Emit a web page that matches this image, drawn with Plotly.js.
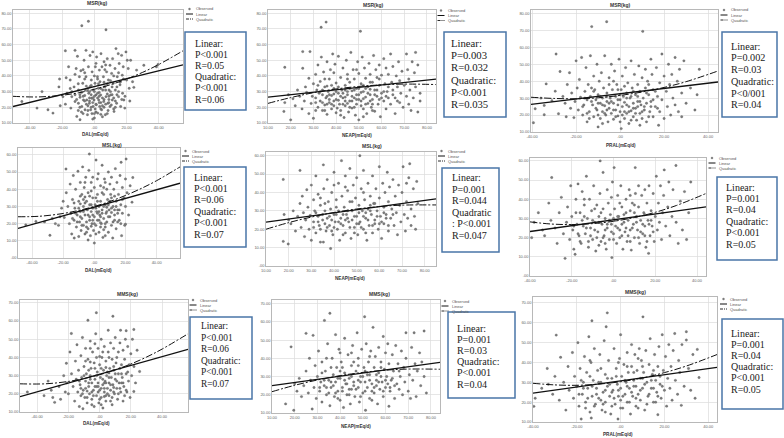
<!DOCTYPE html>
<html><head><meta charset="utf-8">
<script src="https://cdn.plot.ly/plotly-3.0.1.min.js"></script>
<style>html,body{margin:0;padding:0;background:#fff}#chart{width:784px;height:438px}</style>
</head><body><div id="chart"></div>
<script>
// ---------- tick labels ----------
const signedTicks = [-40,-20,0,20,40];
const signedTickText = ['-40.00','-20.00','.00','20.00','40.00'];
const neapTicks = [10,20,30,40,50,60,70,80];
const neapTickText = ['10.00','20.00','30.00','40.00','50.00','60.00','70.00','80.00'];
const msrTicks = [10,20,30,40,50,60,70,80];
const msrTickText = ['10.00','20.00','30.00','40.00','50.00','60.00','70.00','80.00'];
const mslTicks = [0,10,20,30,40,50,60];
const mslTickText = ['.00','10.00','20.00','30.00','40.00','50.00','60.00'];
const mmsTicks = [10,20,30,40,50,60,70];
const mmsTickText = ['10.00','20.00','30.00','40.00','50.00','60.00','70.00'];

// ---------- observed points [x, y] ----------
const dalMsr = [[-45,23.7],[-35.6,19.5],[-32.5,30],[-28.8,18.4],[-25.7,16.3],[-22,33],[-21.6,38],[-21.2,21],[-19.5,26.8],[-18,56],[-17.5,38.8],[-17,29],[-16,45.8],[-15,37.4],[-14.6,19.5],[-14,26.8],[-12.6,33],[-12,56.3],[-12,23.7],[-11.3,44.7],[-10.9,14.2],[-10.5,52.5],[-9.9,31],[-9.9,22.6],[-9.3,39.5],[-8.9,12.1],[-8.9,26.4],[-8.4,43.3],[-7.8,72],[-7.8,20.5],[-7.2,35.3],[-6.8,24.7],[-6.4,50],[-5.8,18.4],[-5.6,31],[-5.2,56.3],[-5.2,39.5],[-4.7,24.7],[-4.3,15.3],[-3.7,74.8],[-3.7,45.8],[-3.5,29],[-3.1,22.6],[-2.7,33.2],[-2.7,53],[-2.3,18.4],[-1.9,37.4],[-1.6,25.8],[-1.4,42.6],[-1,55.3],[-0.8,20.5],[-0.6,31],[-0.2,24.7],[0,13.2],[0.4,35.3],[0.6,45.8],[1,27.9],[1.2,21.6],[1.4,52.1],[1.9,39.5],[2.1,16.3],[2.5,32.1],[2.7,24.7],[3.1,43.7],[3.3,20.5],[3.5,36.3],[3.9,27.9],[4.1,54.2],[4.5,18.4],[4.7,45.8],[5.2,31],[5.6,39.5],[5.8,23.7],[6,49],[6.6,33.2],[6.8,15.3],[7.2,69.4],[7.2,26.8],[7.6,42.6],[8,51],[8.4,22.6],[8.7,37.4],[9.1,31],[9.7,46.8],[9.7,20.5],[10.1,27.9],[10.7,41.6],[11.1,24.7],[11.3,51],[11.7,35.3],[12.2,17.4],[12.8,44.7],[13,31],[13.4,57.4],[13.8,22.6],[14.2,39.5],[14.8,54.2],[15,26.8],[15.4,47.9],[15.9,34.3],[16.3,20.5],[16.9,53.1],[17.3,40.5],[17.5,29],[17.9,45.8],[18.3,24.7],[18.9,19.5],[19.6,55.3],[20,37.4],[20.4,50],[21,44.7],[21.6,32.1],[22.5,50],[23.7,36.3],[24.5,32.7],[26.2,43.7],[30.7,46.8],[38.5,45.8],[39.5,47.3],[-6,27.5],[-4,21],[-2,28],[0.5,19],[2,26],[4,23],[6,20],[8,28.5],[-8,29.5],[-1,23],[3,29.5],[5,26],[7,22],[9,25],[1,17],[-3,26],[10.5,21.5],[12,26],[-5,33.5],[0,30],[2.5,35],[6,36],[-10,18],[-7,16],[14,28],[11,33],[-12,28],[16,36],[19,27],[22,24],[-15,32],[-18,22],[8.5,18],[4,15.5],[-1.5,16],[13,20],[18,38],[-6,42],[0,40],[6.5,44]];
const dalMsrMore = [[-11,25],[-9,20],[-7,27],[-5,22],[-3,30],[-1,26],[1,22],[3,27],[5,21],[7,31],[9,23],[11,28],[13,24],[15,30],[-10,35],[-6,38],[-2,34],[2,38],[6,33],[10,37],[14,33],[-8,17],[-4,18],[0,16],[4,19],[8,16],[12,19],[-6,24],[-2,20],[2,29],[6,25],[10,30],[-9,28],[-3,24],[3,23],[9,27],[0,27],[-4,32],[4,32],[8,35],[12,40],[-12,41],[-7,44],[1,48],[7,47],[15,42],[17,25],[-14,30],[5,14],[-1,12.5]];

const neapMsr = [[17.4,45.5],[17.4,23],[17,17.4],[20,12],[19,28],[21,25.5],[22,21],[23,31],[24,27],[25.3,55.5],[25.3,44.9],[25,19],[26,24],[26.5,33],[27,29.5],[28.5,55.5],[28,16],[28,38.5],[29,22.5],[29.5,27],[30,35],[30,13],[31,26],[31,41],[31.5,31],[32,20],[32,47],[32.5,29],[33,24],[33.4,71],[33,36.5],[33.5,52],[34,18],[34,28],[34.5,42.5],[35,33],[35.6,74.3],[35,21.5],[35.5,26],[36,15.5],[36,49],[36.5,30],[37,38],[37,23],[37.5,44],[38,19],[38,27.5],[38.5,54],[39,32],[39,21],[39.5,47.5],[40,25],[40,35.5],[40,16.5],[41,29],[41,52.5],[41.5,22],[42,39],[42,18],[42.5,31],[43,26],[43,45],[43.5,13.5],[44,34],[44,21],[44.5,50],[45,28],[45,41],[45.5,17],[46,24],[46,36],[46.5,55],[47,30.5],[47,19.5],[47.5,44],[48,26],[48,38],[48.5,15],[49,32],[49,22],[49.5,49],[50,28],[50,41.5],[50.7,68.5],[50,12],[51,24],[51,35],[51.5,52],[52,30],[52,19],[52.5,45],[53,26.5],[53,38.5],[53.5,16],[54,33],[54,22.5],[54.5,48],[55,28],[55,41],[55.5,20],[56,36],[56,25],[56.5,53],[57,31],[57,17.5],[57.5,44],[58,27],[58,39],[58.5,22],[59,34],[59,47],[59.5,14],[60,29],[60,40.5],[61,24],[61,51],[61.5,35],[62,19],[62,45],[62.5,30],[63,26],[63,41],[64,54],[64,22],[64.5,36],[65,31],[65,46],[66,26],[66,16],[66.5,40],[67,33],[67.5,49],[68,23],[68,37],[68.5,29],[69,43],[69.5,20],[70,34],[71,54],[71,27],[71.5,44],[72,22],[72,38],[72.5,31],[73,18],[73.5,49],[74,26],[74.5,42],[75,33],[75,55],[76,17],[76,47],[77,29],[77,24],[37,25],[39,28.5],[41,24.5],[43,29],[45,22.5],[47,27],[49,25],[51,29.5],[53,22],[36,33.5],[40.5,19.5],[44,26.5],[48,31],[52,25.5],[55,31.5],[34,23]];
const neapMsrMore = [[31,23],[33,30],[35,18],[37,28],[39,24],[41,33],[43,22],[45,30],[47,24],[49,28],[51,21],[53,32],[55,24],[57,28],[59,25],[61,30],[32,34],[36,27],[40,30],[44,24],[48,20],[52,34],[56,22],[60,26],[34,31],[38,22],[42,27],[46,32],[50,25],[54,29],[58,31],[62,27],[35,38],[45,38],[55,36],[39,42],[49,44],[59,38],[42,15],[52,14],[63,33],[65,28],[67,24],[36,22],[46,20],[56,18],[31,18],[50,32],[44,31],[38,34]];

const pralMsr = [[-39.4,15.5],[-38.6,23.7],[-36,30],[-34.5,20.2],[-34.5,25.7],[-33.6,38.4],[-31,28.5],[-29.5,34.1],[-29.1,56],[-28,20.8],[-27.3,45.7],[-26,31],[-25,27],[-24.5,19],[-24,38],[-23,45],[-22.5,24],[-22,33],[-21,18.5],[-20.5,28],[-20,52],[-19.5,36],[-19,23],[-18.5,41],[-18,30.5],[-17.5,54],[-17,20],[-16.5,26],[-16,34],[-15.5,48],[-15,16],[-15,29],[-14.5,38],[-14,22],[-13.5,55],[-13.5,31],[-12.9,72.2],[-12.5,26],[-12,43],[-12,19],[-11.5,35],[-11,29],[-10.5,50],[-10.5,23],[-10,13],[-10,32],[-9.5,40],[-9,27],[-9,18],[-8.5,45],[-8,30],[-8,22],[-7.5,36],[-7,55],[-7,25.5],[-6.5,20],[-6.1,75.1],[-6,33],[-6,28],[-5.5,16],[-5,42],[-5,24],[-4.5,30],[-4,50],[-4,21],[-3.5,35],[-3,27],[-3,17.5],[-2.5,46],[-2,31],[-2,23],[-1.5,38],[-1,26],[-1,19.5],[-0.5,53],[0,29],[0,22],[0.5,35],[0.5,12],[1,43],[1,25],[1.5,31],[2,18],[2,27.5],[2.5,48],[3,33],[3,21],[3.5,39],[4,25],[4,15],[4.5,30],[5,52],[5,22.5],[5.5,36],[6,27],[6,19],[6.5,44],[7,32],[7,24],[7.5,17],[8,38],[8,28],[8.5,49],[9,21],[9,34],[9.5,26],[10,42],[10,18],[10.3,69.4],[10.5,30],[11,23],[11.5,47],[11.5,36],[12,27],[12,16],[12.5,40],[13,32],[13.5,22],[14,53],[14,28],[14.5,44],[15,19],[15,35],[16,25],[16.5,48],[17,31],[17.5,14],[18,39],[18,22],[19,56],[19,29],[20,43],[20,18],[21,34],[21.5,25],[22,50],[22.5,38],[23,20],[23.5,44],[24,30],[25,54],[25,26],[26,40],[26.5,22],[27,47],[28,33],[28,19],[29,52],[30,27],[32,36],[34,23],[35,32],[36,47]];
const pralMsrMore = [[-17,25],[-15,21],[-13,28],[-11,24],[-9,31],[-7,21],[-5,27],[-3,23],[-1,29],[1,20],[3,26],[5,31],[7,21],[9,28],[11,25],[13,19],[15,29],[17,24],[-16,30],[-12,34],[-8,26],[-4,28],[0,32],[4,22],[8,25],[12,33],[16,34],[-14,18],[-10,20],[-6,23],[-2,19],[2,22],[6,24],[10,22],[14,25],[-6,31],[-1,35],[3,30],[8,31],[-10,27],[-3,40],[2,37],[6,34],[-13,36],[13,38],[-8,15],[0,16],[5,17],[9,14],[-5,38]];

const dalMsl = [[-44,19.3],[-37.5,21.3],[-32,21],[-28.5,13.2],[-27,23],[-25,20],[-22,24],[-21,29],[-19.3,23.6],[-18.2,51.8],[-18,38],[-17,30],[-16,20],[-15.5,43],[-15,26],[-14.5,14],[-14,34],[-13.5,48],[-13,22],[-12.9,11.6],[-12.5,29],[-12,40],[-11.5,18],[-11,25],[-10.5,50.5],[-10,33],[-10,12.5],[-9.5,21],[-9,44],[-9,27],[-8.5,16],[-8,37],[-8,23],[-7.5,53],[-7,30],[-7,19],[-6.5,41],[-6,25],[-6,14],[-5.5,47],[-5,33],[-5,21],[-4.5,28],[-4,38],[-4,17],[-3.5,51],[-3.2,60.5],[-3,24],[-3,31],[-2.5,13],[-2,44],[-2,27],[-1.5,20],[-1,35],[-1,29],[-0.5,16],[0,8.7],[0,41],[0,24],[0.5,31],[1,19],[1.1,57],[1.5,27],[2,37],[2,22],[2.5,49],[3,30],[3,15],[3.5,25],[4,42],[4,33],[4.5,20],[5,28],[5,54],[5.5,12],[6,37],[6,23],[6.5,46],[7,31],[7,18],[7.5,26],[8,40],[8,21],[8.5,34],[9,50],[9,15],[9.5,28],[10,43],[10,24],[10.5,37],[11,19],[11,47],[11.8,11.6],[12,30],[12.5,40],[13,25],[13.5,52],[14,33],[14,17],[14.5,44],[15,28],[15.5,37],[16,22],[16.5,48],[17,31],[17.2,55.7],[17.5,13],[18,41],[18,26],[19,35],[19.5,19],[20,46],[20,30],[20.4,57.6],[20,19.7],[21,38],[22,25],[23,42],[24.2,32.5],[24.7,46.8],[-20,33],[-23,19],[-6,35.5],[2,33],[8,29.5],[-2,18.5],[4,20.5],[-9,31.5],[11,26.5],[6,16.5],[-4,10.5],[15,21],[-14,23],[-1,47],[7,44],[13,36]];
const dalMslMore = [[-11,21],[-9,24],[-7,27],[-5,18],[-3,22],[-1,25],[1,29],[3,22],[5,26],[7,20],[9,24],[11,29],[13,22],[15,26],[17,20],[-10,29],[-6,32],[-2,31],[2,26],[6,30],[10,33],[14,30],[-8,19],[-4,25],[0,20],[4,18],[8,27],[12,21],[16,28],[-7,34],[-3,36],[1,35],[5,38],[9,31],[13,28],[-12,26],[-5,15],[1,14],[7,13],[-1,22],[3,27],[-9,36],[6,41],[11,35],[-6,44],[2,46],[-2,39],[18,34],[-13,32],[4,24]];

const neapMsl = [[17.6,47.1],[17.6,13.4],[19.8,12],[18,28],[20,25],[21,23],[22,30],[23,19],[24,27],[25,52],[25,34],[25.5,21],[26,38],[26.5,29],[27,16],[27.5,25],[28,41.5],[28.5,32],[29,20],[29.5,27.5],[30,44],[30,14],[31,36],[31,24],[31.5,30],[32,49],[32,18],[33,27],[33,39],[33.5,22],[34,33],[34,13],[35,25],[35.3,55],[35.3,13],[35.5,42],[36,30],[36.5,19],[37,47],[37,26],[37.5,35],[38,22],[38.5,9.5],[38.5,31],[39,40],[39.5,17],[40,28],[40,51],[40.5,24],[41,36],[41.5,20],[42,45],[42,30],[42.5,14],[43,26],[43.3,57.3],[43.5,38],[44,22],[44.5,32],[45,49],[45,18],[45.5,28],[46,41],[46.5,24],[47,35],[47,53],[47.5,15],[48,30],[48.5,44],[49,21],[49.5,37],[50,27],[50,48],[50.5,17],[51,33],[51.4,60],[51.5,24],[52,42],[52.5,30],[53,20],[53,52],[53.5,36],[54,26],[54.5,14],[55,45],[55,31],[55.5,22],[56,38],[56.5,28],[57,49],[57,18],[57.5,34],[58,25],[58.5,42],[59,30],[59.5,20],[60,37],[60,54],[60.5,27],[61,15],[61.5,45],[62,32],[62,23],[62.5,40],[63,28],[63.5,51],[64,19],[64,35],[64.5,43],[65,26],[65.5,31],[66,47],[66.5,22],[67,38],[67.5,29],[68,17],[68.5,44],[69,33],[69.5,24],[70,40],[70.5,54],[71,28],[71.5,19],[72,45],[72,35],[72.5,26],[73,48],[73.4,55.6],[74,22],[74,31],[75,42],[75.5,27],[76,20],[76.5,46],[77,34]];
const neapMslMore = [[31,21],[33,24],[35,28],[37,21],[39,25],[41,28],[43,23],[45,25],[47,21],[49,27],[51,23],[53,27],[55,25],[57,22],[59,27],[61,24],[63,26],[32,29],[36,23],[40,21],[44,28],[48,25],[52,21],[56,30],[60,23],[34,20],[38,27],[42,24],[46,30],[50,23],[54,29],[58,23],[62,29],[36,34],[41,32],[46,26],[51,29],[56,33],[39,19],[44,17],[49,18],[54,18],[64,22],[66,28],[34,37],[48,35],[58,34],[45,43],[53,40],[40,44]];

const pralMsl = [[-39.2,20],[-38,28],[-36,33],[-34,24],[-33,21],[-31,38],[-30,29],[-29.6,51.3],[-28,25],[-27,17],[-26,33],[-25,41],[-24,22],[-23.2,9.2],[-22.5,28],[-22,36],[-21,19],[-20.5,47],[-20,31],[-19.5,24],[-19,14],[-18.4,11.3],[-18,40],[-17.5,27],[-17,48],[-16.5,21],[-16,33],[-15.5,17],[-15,44],[-14.5,26],[-14,37],[-13.5,22],[-13,52],[-12.5,30],[-12,15],[-11.5,40],[-11,25],[-10.5,34],[-10,19],[-9.5,47],[-9,28],[-8.5,13],[-8,37],[-7.5,23],[-7,31],[-6.4,60],[-6.5,43],[-6,18],[-5.5,27],[-5,54],[-5,35],[-4.5,21],[-4,30],[-3.5,14],[-3,45],[-3,25],[-2.5,38],[-2,19],[-1.5,32],[-1,27],[-0.8,9.6],[-0.5,49],[0,22],[0.3,56.5],[0.5,35],[1,29],[1.5,17],[2,42],[2,25],[2.5,31],[3,20],[3.5,47],[4,36],[4,27],[4.5,14],[5,32],[5.5,23],[6,40],[6.5,18],[7,29],[7.5,45],[8,34],[8,24],[8.5,13.5],[9,38],[9.5,27],[10,20],[10.4,56.5],[10.5,43],[11,31],[11.5,24],[12,47],[12,36],[12.5,17],[13,29],[13.5,42],[14,22],[14.5,33],[15,45],[15,26],[15.5,15],[16,38],[16.5,29],[16.8,11.8],[17,47],[17.5,21],[18,34],[18.5,26],[19,43],[19.5,18],[20,31],[20.5,52],[21,24],[21.5,38],[22,28],[22.5,47],[23,19],[23.5,33],[24.3,55.3],[24,42],[25,26],[26,36],[26.5,49],[27,21],[28,31],[28.5,45],[29.9,57.6],[30,28],[31,17],[32,39],[33,24],[34,44],[35,19],[36,33],[37,49]];
const pralMslMore = [[-19,26],[-17,22],[-15,29],[-13,25],[-11,21],[-9,24],[-7,28],[-5,20],[-3,27],[-1,23],[1,26],[3,24],[5,28],[7,21],[9,25],[11,28],[13,23],[15,21],[17,27],[19,23],[-18,33],[-14,31],[-10,29],[-6,33],[-2,29],[2,31],[6,25],[10,33],[14,27],[18,29],[-16,18],[-12,18],[-8,20],[-4,17],[0,19],[4,21],[8,18],[12,20],[16,18],[-4,24],[0,30],[6,33],[-9,35],[3,38],[10,37],[-14,40],[-1,41],[8,42],[-7,16],[15,32]];

const dalMms = [[-46.3,21],[-35.6,19],[-33,27],[-31,22],[-28.8,15.3],[-26,24],[-25,17],[-23,30],[-21.3,36.8],[-21,26],[-20,20],[-19,43],[-18.1,53.2],[-18,31],[-17,24],[-16,16],[-15.5,38],[-15,28],[-14.5,47],[-14,21],[-13.5,33],[-13,13],[-12.5,25],[-12,41],[-11.5,29],[-11,51],[-10.7,11.8],[-10.5,22],[-10,35],[-9.5,18],[-9,45],[-9,27],[-8.5,31],[-8,15],[-7.5,60.5],[-7.5,39],[-7,24],[-6.5,20],[-6,49],[-6,30],[-5.5,34],[-5,17],[-5,26],[-4.5,43],[-4,22],[-3.5,13],[-3.5,37],[-3,28],[-2.5,53],[-2.1,64.6],[-2,24],[-2,19],[-1.5,32],[-1,45],[-1,26],[-0.5,15],[0,36],[0,22],[0.5,29],[1,50],[1,18],[1.5,40],[2,25],[2.1,12.2],[2.5,33],[3,21],[3,46],[3.5,27],[4,16],[4,38],[4.5,30],[5,23],[5.5,55],[5.5,43],[6,26],[6,19],[6.5,34],[7,48],[7,22],[7.5,29],[8,14],[8,39],[8.5,62.7],[8.5,25],[9,33],[9,45],[9.5,20],[10,28],[10,51],[10.5,37],[11,23],[11.5,17],[12,43],[12,31],[12.5,26],[13,48],[13.4,55],[13.5,21],[14,36],[14.5,29],[15,44],[15,16],[15.5,24],[16,39],[16.5,50],[17,54.7],[17,31],[17.5,21],[18,46],[18.5,27],[19,36],[19.5,18],[20,42],[20.5,30],[21,50],[21.9,55.4],[21.9,21.3],[22,35],[23,26],[24,44],[25.6,32.3],[-30,18],[-22,21],[-8,21.5],[4,34.5],[-3,47.5],[9,23.5],[-12,19],[6,31.5],[0,40.5],[14,26],[-6,37.5],[3,18.5]];
const dalMmsMore = [[-11,20],[-9,23],[-7,26],[-5,21],[-3,24],[-1,21],[1,23],[3,26],[5,20],[7,25],[9,21],[11,27],[13,23],[15,26],[17,22],[-10,30],[-6,28],[-2,30],[2,28],[6,29],[10,31],[14,31],[-8,18],[-4,19],[0,17],[4,19],[8,18],[12,20],[16,19],[-7,33],[-3,34],[1,34],[5,32],[9,35],[13,34],[-12,23],[-5,14],[1,14],[7,16],[-1,24],[3,23],[-9,38],[6,40],[11,40],[-6,45],[2,43],[-2,40],[18,32],[-13,27],[4,26]];

const neapMms = [[16,15],[18.4,46.3],[19.6,11.5],[20,26],[21,22],[22,29],[23,19],[24,25],[25,53.7],[25,33],[26,21],[26.5,40],[27,28],[27.7,12.2],[28.1,52.6],[28.5,24],[29,36],[29.5,18],[30,30],[30.5,44],[31,22],[31.5,27],[32,38],[32,16],[33,25],[33.1,60.8],[33.5,33],[34,20],[34.5,48],[35,28],[35.5,64.7],[35.5,14],[36,24],[36.5,40],[37,31],[37.5,19],[38,53],[38,27],[38.5,35],[39,22],[39.5,45],[40,17],[40,29],[40.5,38],[41,24],[41.5,13],[42,51],[42,32],[42.5,26],[43,20],[43.5,42],[44,29],[44.5,15],[45,36],[45,23],[45.5,47],[46,27],[46.5,19],[47,33],[47.5,54],[48,24],[48,40],[48.5,16],[49,30],[49.5,45],[50,21],[50.8,62.8],[50.5,35],[51,27],[51.2,11.5],[51.5,48],[52,24],[52.5,38],[53,18],[53,31],[53.5,44],[54,26],[54.5,57],[55,21],[55,35],[55.5,41],[56,28],[56.5,15],[57,46],[57,32],[57.5,23],[58,38],[58.5,27],[59,52],[59,19],[59.5,34],[60,43],[60,24],[60.5,30],[61.5,13.7],[61,48],[61.5,37],[62,22],[62.5,28],[63,42],[63.5,33],[64,18],[64.5,47],[65,26],[65.5,37],[66,23],[66.5,30],[67,44],[67.5,20],[68,35],[68.5,27],[69,54],[69,40],[70,22],[70.5,31],[71,18],[71.5,46],[72,28],[72.6,54],[73,37],[73.5,19],[74,33],[75,43],[75.5,25],[76,38],[77,55],[77,30],[78,21]];
const neapMmsMore = [[31,24],[33,28],[35,21],[37,25],[39,29],[41,22],[43,26],[45,30],[47,23],[49,27],[51,22],[53,28],[55,24],[57,27],[59,22],[61,26],[63,29],[32,32],[36,27],[40,33],[44,23],[48,28],[52,31],[56,25],[60,28],[34,24],[38,21],[42,28],[46,25],[50,30],[54,22],[58,30],[62,24],[36,35],[41,35],[46,38],[51,33],[56,31],[39,18],[44,20],[49,19],[54,17],[64,25],[66,33],[34,40],[48,36],[58,35],[45,43],[53,41],[40,43]];

const pralMms = [[-39.6,17.9],[-39,22],[-36,27],[-33.5,37],[-33,29],[-31,24],[-30,33],[-29.4,53.8],[-28,21],[-27.4,42.6],[-26,30],[-25,16],[-24,38],[-23.5,26],[-22,45],[-21.5,22],[-21,33],[-20,28],[-19.5,50],[-19,18],[-18.5,37],[-18,11.5],[-17.5,24],[-17,30],[-16.5,43],[-16,20],[-15.5,35],[-15,27],[-14.5,53],[-14,15],[-13.5,40],[-13.4,12],[-13.1,61],[-13,23],[-12.5,31],[-12,47],[-11.5,19],[-11,27],[-10.5,36],[-10,22],[-9.5,44],[-9,30],[-8.5,16],[-8,25],[-7.5,51],[-7,34],[-7,20],[-6.6,58],[-6.1,65],[-6,28],[-5.5,41],[-5,23],[-4.5,14],[-4,32],[-3.5,26],[-3,47],[-2.5,19],[-2,37],[-1.5,29],[-1.2,11.5],[-1,23],[-0.5,42],[0,54],[0,27],[0.5,33],[1,17],[1.5,39],[2,24],[2.5,30],[3,45],[3,20],[3.5,35],[4,27],[4.5,14],[5,49],[5,38],[5.5,23],[6,31],[6.5,44],[7,18],[7,28],[7.5,36],[8,24],[8.5,47],[9,32],[9,21],[9.5,41],[10,27],[10.2,63],[10.5,35],[11,16],[11.5,46],[12,30],[12.5,23],[13,39],[13.5,52],[14,27],[14.5,34],[15,20],[15.5,44],[16,31],[16.5,25],[17,13.7],[17,38],[17.5,48],[18,29],[18.5,22],[19,54],[19.5,36],[20,26],[20.5,43],[21,18],[21.5,32],[22,49],[22.5,27],[23,38],[23.5,21],[24,46],[24.7,54.6],[25,31],[26,24],[26.5,41],[27,35],[27.7,18.4],[28,49],[29,28],[30,55.5],[30,51.3],[31,37],[32,26],[33,44],[34,22],[35,46.6],[35.8,32.4]];
const pralMmsMore = [[-19,24],[-17,27],[-15,22],[-13,28],[-11,24],[-9,21],[-7,26],[-5,29],[-3,22],[-1,26],[1,23],[3,28],[5,25],[7,22],[9,26],[11,29],[13,24],[15,27],[17,23],[19,28],[-18,31],[-14,33],[-10,30],[-6,32],[-2,33],[2,31],[6,35],[10,32],[14,31],[18,33],[-16,17],[-12,18],[-8,19],[-4,18],[0,17],[4,20],[8,17],[12,19],[16,20],[-4,25],[0,21],[6,28],[-9,37],[3,38],[10,38],[-14,41],[-1,40],[8,42],[-7,15],[15,36]];

// ---------- fitted lines ----------
const dalMsrLinX = [-50.5,55], dalMsrLinY = [20.5,47];
const dalMsrQuadX = [-50.5,-35,-20,-10,0,10,20,30,40,55], dalMsrQuadY = [27,26.6,27.7,29.2,31.5,34.4,38,42.3,47.3,56];
const neapMsrLinX = [10,84], neapMsrLinY = [26.5,38];
const neapMsrQuadX = [10,20,30,40,50,60,70,84], neapMsrQuadY = [22.5,26.2,29.3,31.7,33.3,34.3,34.8,34.5];
const pralMsrLinX = [-40.5,44.5], pralMsrLinY = [26.3,39.5];
const pralMsrQuadX = [-40.5,-30,-20,-10,0,10,20,30,44.5], pralMsrQuadY = [30.5,29.8,29.6,30.2,31.6,33.6,36.3,39.7,46];
const dalMslLinX = [-49,55], dalMslLinY = [17.2,43.5];
const dalMslQuadX = [-49,-35,-20,-10,0,10,20,30,40,55], dalMslQuadY = [24,24.3,25.9,27.7,30,32.9,36.4,40.4,45,53];
const neapMslLinX = [10,85], neapMslLinY = [23.9,36.5];
const neapMslQuadX = [10,20,30,40,50,60,70,85], neapMslQuadY = [20,23.6,26.6,29.1,31,32.3,33.1,33.2];
const pralMslLinX = [-40,44.3], pralMslLinY = [23.2,36];
const pralMslQuadX = [-40,-30,-20,-10,0,10,20,30,44.3], pralMslQuadY = [28.2,27.1,26.8,27.3,28.5,30.5,33.2,36.7,43];
const dalMmsLinX = [-51,56.6], dalMmsLinY = [18.4,44.5];
const dalMmsQuadX = [-51,-35,-20,-10,0,10,20,30,40,56.6], dalMmsQuadY = [25.5,25.5,26.8,28.4,30.5,33.2,36.4,40.2,44.6,53];
const neapMmsLinX = [10,84], neapMmsLinY = [25,37.8];
const neapMmsQuadX = [10,20,30,40,47,60,70,84], neapMmsQuadY = [21.7,25.2,28.1,30.5,31.8,33.5,34.1,34];
const pralMmsLinX = [-40,44], pralMmsLinY = [24.5,37.5];
const pralMmsQuadX = [-40,-30,-20,-10,0,10,20,30,44], pralMmsQuadY = [29.5,28.7,28.5,29.1,30.3,32.2,34.9,38.2,44];

// ---------- statistics text ----------
const dalMsrStats = ['Linear:','P<0.001','R=0.05','Quadratic:','P<0.001','R=0.06'];
const neapMsrStats = ['Linear:','P=0.003','R=0.032','Quadratic:','P<0.001','R=0.035'];
const pralMsrStats = ['Linear:','P=0.002','R=0.03','Quadratic:','P<0/001','R=0.04'];
const dalMslStats = ['Linear:','P<0.001','R=0.06','Quadratic:','P<0.001','R=0.07'];
const neapMslStats = ['Linear:','P=0.001','R=0.044','Quadratic',': P<0.001','R=0.047'];
const pralMslStats = ['Linear:','P=0.001','R=0.04','Quadratic:','P<0.001','R=0.05'];
const dalMmsStats = ['Linear:','P<0.001','R=0.06','Quadratic:','P<0.001','R=0.07'];
const neapMmsStats = ['Linear:','P=0.001','R=0.03','Quadratic:','P<0.001','R=0.04'];
const pralMmsStats = ['Linear:','P=0.001','R=0.04','Quadratic:','P<0.001','R=0.05'];
const legendLabels = ['Observed','Linear','Quadratic'];

// ---------- layout of the 9 panels (pixel geometry) ----------
const W = 784, H = 438;
const fx = v => v / W, fy = v => 1 - v / H;
const SERIF = 'Liberation Serif';
const panels = [
 {pts:dalMsr.concat(dalMsrMore), lx:dalMsrLinX, ly:dalMsrLinY, qx:dalMsrQuadX, qy:dalMsrQuadY, dom:[13,183,10,123], xr:[-50.5,55], yr:[10,82], xt:signedTicks, xtt:signedTickText, yt:msrTicks, ytt:msrTickText, title:'MSR(kg)', tp:[97,3], xl:'DAL(mEq/d)', xlp:[95,134], leg:[189.5,9], box:[185,32,246,110], st:dalMsrStats, tx:193, ty:43, ts:11.2, fs:9.8},
 {pts:neapMsr.concat(neapMsrMore), lx:neapMsrLinX, ly:neapMsrLinY, qx:neapMsrQuadX, qy:neapMsrQuadY, dom:[268,436,10,123], xr:[10,84], yr:[10,82], xt:neapTicks, xtt:neapTickText, yt:msrTicks, ytt:msrTickText, title:'MSR(kg)', tp:[373,5], xl:'NEAP(mEq/d)', xlp:[357,135], leg:[441,10.5], box:[444,32,506,117], st:neapMsrStats, tx:449, ty:43, ts:12.2, fs:10.7},
 {pts:pralMsr.concat(pralMsrMore), lx:pralMsrLinX, ly:pralMsrLinY, qx:pralMsrQuadX, qy:pralMsrQuadY, dom:[531,718,10,132], xr:[-40.5,44.5], yr:[10,82], xt:signedTicks, xtt:signedTickText, yt:msrTicks, ytt:msrTickText, title:'MSR(kg)', tp:[620,5], xl:'PRAL(mEq/d)', xlp:[621,145], leg:[724,10], box:[722,32,777,117], st:pralMsrStats, tx:729, ty:46, ts:11.8, fs:10.2},
 {pts:dalMsl.concat(dalMslMore), lx:dalMslLinX, ly:dalMslLinY, qx:dalMslQuadX, qy:dalMslQuadY, dom:[18,180,148,258], xr:[-49,55], yr:[0,64], xt:signedTicks, xtt:signedTickText, yt:mslTicks, ytt:mslTickText, title:'MSL(kg)', tp:[112,145], xl:'DAL(mEq/d)', xlp:[98,270], leg:[185.5,151], box:[184,167,246,247], st:dalMslStats, tx:192, ty:177, ts:11.4, fs:10},
 {pts:neapMsl.concat(neapMslMore), lx:neapMslLinX, ly:neapMslLinY, qx:neapMslQuadX, qy:neapMslQuadY, dom:[266,436,152,266], xr:[10,85], yr:[0,62], xt:neapTicks, xtt:neapTickText, yt:mslTicks, ytt:mslTickText, title:'MSL(kg)', tp:[372,146], xl:'NEAP(mEq/d)', xlp:[350,278], leg:[441.5,151], box:[442,168,499,252], st:neapMslStats, tx:450, ty:178, ts:11.4, fs:10},
 {pts:pralMsl.concat(pralMslMore), lx:pralMslLinX, ly:pralMslLinY, qx:pralMslQuadX, qy:pralMslQuadY, dom:[530,706,158,276], xr:[-40,44.3], yr:[0,61.5], xt:signedTicks, xtt:signedTickText, yt:mslTicks, ytt:mslTickText, title:'', tp:[623,150], xl:'', xlp:[620,290], leg:[712,158], box:[717,177,777,260], st:pralMslStats, tx:724, ty:187, ts:11.4, fs:10},
 {pts:dalMms.concat(dalMmsMore), lx:dalMmsLinX, ly:dalMmsLinY, qx:dalMmsQuadX, qy:dalMmsQuadY, dom:[20,188,300,412], xr:[-51,56.6], yr:[10,71.6], xt:signedTicks, xtt:signedTickText, yt:mmsTicks, ytt:mmsTickText, title:'MMS(kg)', tp:[128,294], xl:'DAL(mEq/d)', xlp:[96,423], leg:[193,300], box:[190,317,252,399], st:dalMmsStats, tx:199, ty:326, ts:11.6, fs:9.4},
 {pts:neapMms.concat(neapMmsMore), lx:neapMmsLinX, ly:neapMmsLinY, qx:neapMmsQuadX, qy:neapMmsQuadY, dom:[272,440,300,413], xr:[10,84], yr:[10,72], xt:neapTicks, xtt:neapTickText, yt:mmsTicks, ytt:mmsTickText, title:'MMS(kg)', tp:[379,294], xl:'NEAP(mEq/d)', xlp:[356,426], leg:[445,301], box:[448,312,515,398], st:neapMmsStats, tx:455, ty:328, ts:11.2, fs:10.1},
 {pts:pralMms.concat(pralMmsMore), lx:pralMmsLinX, ly:pralMmsLinY, qx:pralMmsQuadX, qy:pralMmsQuadY, dom:[533,717,297,422], xr:[-40,44], yr:[10,73], xt:signedTicks, xtt:signedTickText, yt:mmsTicks, ytt:mmsTickText, title:'MMS(kg)', tp:[635,292], xl:'PRAL(mEq/d)', xlp:[618,434], leg:[723.5,299], box:[722,319,783,409], st:pralMmsStats, tx:729, ty:333, ts:11.2, fs:10}
];

const traces = [];
const layout = {
  width: W, height: H, margin: {l:0, r:0, t:0, b:0},
  paper_bgcolor: '#ffffff', plot_bgcolor: '#ffffff', showlegend: false,
  font: {family: 'Liberation Sans'},
  shapes: [], annotations: []
};

panels.forEach((p, i) => {
  const s = i === 0 ? '' : String(i + 1);
  const xa = 'x' + s, ya = 'y' + s;
  const axisCommon = {
    showgrid: true, gridcolor: '#dcdcdc', gridwidth: 0.7, zeroline: false,
    showline: true, linecolor: '#a6a6a6', linewidth: 0.8, mirror: true,
    ticks: '', tickfont: {size: 4, color: '#666', family: 'Liberation Sans'}, fixedrange: true
  };
  layout['xaxis' + s] = Object.assign({}, axisCommon, {
    domain: [fx(p.dom[0]), fx(p.dom[1])], range: p.xr, tickvals: p.xt, ticktext: p.xtt, anchor: ya
  });
  layout['yaxis' + s] = Object.assign({}, axisCommon, {
    domain: [fy(p.dom[3]), fy(p.dom[2])], range: p.yr, tickvals: p.yt, ticktext: p.ytt, anchor: xa
  });

  traces.push({
    type: 'scatter', mode: 'markers', xaxis: xa, yaxis: ya,
    x: p.pts.map(d => d[0]), y: p.pts.map(d => d[1]),
    marker: {size: 2.4, color: '#7d7d7d', line: {color: '#555', width: 0.3}},
    hoverinfo: 'skip'
  });
  traces.push({
    type: 'scatter', mode: 'lines', xaxis: xa, yaxis: ya, x: p.lx, y: p.ly,
    line: {color: '#111', width: 1.3}, hoverinfo: 'skip'
  });
  traces.push({
    type: 'scatter', mode: 'lines', xaxis: xa, yaxis: ya, x: p.qx, y: p.qy,
    line: {color: '#111', width: 1, dash: '7px,2px,2px,2px', shape: 'spline'}, hoverinfo: 'skip'
  });

  if (p.title) layout.annotations.push({xref:'paper', yref:'paper', x: fx(p.tp[0]), y: fy(p.tp[1]),
    text: '<b>' + p.title + '</b>', showarrow: false, xanchor: 'center', yanchor: 'middle',
    font: {size: 5, color: '#333'}});
  if (p.xl) layout.annotations.push({xref:'paper', yref:'paper', x: fx(p.xlp[0]), y: fy(p.xlp[1]),
    text: '<b>' + p.xl + '</b>', showarrow: false, xanchor: 'center', yanchor: 'middle',
    font: {size: 4.6, color: '#333'}});

  const lx = p.leg[0], ly0 = p.leg[1], gap = 5;
  layout.shapes.push({type:'circle', xref:'paper', yref:'paper',
    x0: fx(lx - 1), x1: fx(lx + 1), y0: fy(ly0 + 1), y1: fy(ly0 - 1),
    fillcolor: '#7d7d7d', line: {color: '#555', width: 0.3}});
  layout.shapes.push({type:'line', xref:'paper', yref:'paper',
    x0: fx(lx - 3.5), x1: fx(lx + 3.5), y0: fy(ly0 + gap), y1: fy(ly0 + gap),
    line: {color: '#111', width: 1}});
  layout.shapes.push({type:'line', xref:'paper', yref:'paper',
    x0: fx(lx - 3.5), x1: fx(lx + 3.5), y0: fy(ly0 + 2 * gap), y1: fy(ly0 + 2 * gap),
    line: {color: '#111', width: 0.9, dash: '3px,1px,1px,1px'}});
  legendLabels.forEach((t, k) => layout.annotations.push({xref:'paper', yref:'paper',
    x: fx(lx + 4.5), y: fy(ly0 + k * gap), text: t, showarrow: false,
    xanchor: 'left', yanchor: 'middle', font: {size: 4, color: '#555'}}));

  layout.shapes.push({type:'rect', xref:'paper', yref:'paper',
    x0: fx(p.box[0]), x1: fx(p.box[2]), y0: fy(p.box[3]), y1: fy(p.box[1]),
    fillcolor: 'rgba(255,255,255,0)', line: {color: '#4a76a8', width: 1.5}});
  p.st.forEach((t, k) => layout.annotations.push({xref:'paper', yref:'paper',
    x: fx(p.tx), y: fy(p.ty + k * p.ts), text: t, showarrow: false,
    xanchor: 'left', yanchor: 'middle',
    font: {size: p.fs, color: '#1a1a1a', family: SERIF}}));
});

Plotly.newPlot('chart', traces, layout, {displayModeBar: false, staticPlot: true});
</script>
</body></html>
